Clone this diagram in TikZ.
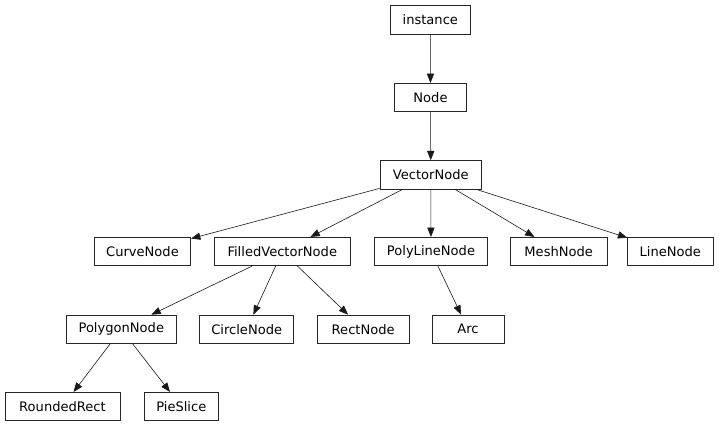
\documentclass[tikz,border=0pt]{standalone}
\usepackage{fontspec}
\setmainfont{DejaVu Sans}
\usetikzlibrary{arrows.meta}
\begin{document}
\begin{tikzpicture}[x=0.75pt,y=-0.75pt,
  cls/.style={draw=black!85,line width=0.5pt,minimum height=21.3pt,inner sep=0pt,
    font=\fontsize{9.8pt}{11pt}\selectfont,fill=white},
  edge/.style={draw=black!90,line width=0.45pt,-{Triangle[length=7pt,width=5.4pt]}}]
\fill[white] (0,0) rectangle (719,427);
\useasboundingbox (0,0) rectangle (719,427);
\node[cls,minimum width=59.5pt] (instance) at (430.3,19.8) {instance};
\node[cls,minimum width=54.3pt] (node) at (430.5,97.5) {Node};
\node[cls,minimum width=76.3pt] (vector) at (430.8,174.8) {VectorNode};
\node[cls,minimum width=72.3pt] (curve) at (142.5,251.5) {CurveNode};
\node[cls,minimum width=102pt] (filled) at (282.3,251.5) {FilledVectorNode};
\node[cls,minimum width=85pt] (polyline) at (431,251.5) {PolyLineNode};
\node[cls,minimum width=72.5pt] (mesh) at (558.7,251.5) {MeshNode};
\node[cls,minimum width=64pt] (line) at (670.3,251.5) {LineNode};
\node[cls,minimum width=82.5pt] (polygon) at (121.3,329.2) {PolygonNode};
\node[cls,minimum width=70.5pt] (circle) at (246.7,329.2) {CircleNode};
\node[cls,minimum width=68.8pt] (rect) at (363.2,329.2) {RectNode};
\node[cls,minimum width=54pt] (arc) at (468,329.2) {Arc};
\node[cls,minimum width=86.3pt] (rounded) at (62.5,406.5) {RoundedRect};
\node[cls,minimum width=56pt] (pie) at (181.3,406.5) {PieSlice};
\draw[edge] (instance) -- (node);
\draw[edge] (node) -- (vector);
\draw[edge] (vector) -- (curve);
\draw[edge] (vector) -- (filled);
\draw[edge] (vector) -- (polyline);
\draw[edge] (vector) -- (mesh);
\draw[edge] (vector) -- (line);
\draw[edge] (filled) -- (polygon);
\draw[edge] (filled) -- (circle);
\draw[edge] (filled) -- (rect);
\draw[edge] (polyline) -- (arc);
\draw[edge] (polygon) -- (rounded);
\draw[edge] (polygon) -- (pie);
\end{tikzpicture}
\end{document}
